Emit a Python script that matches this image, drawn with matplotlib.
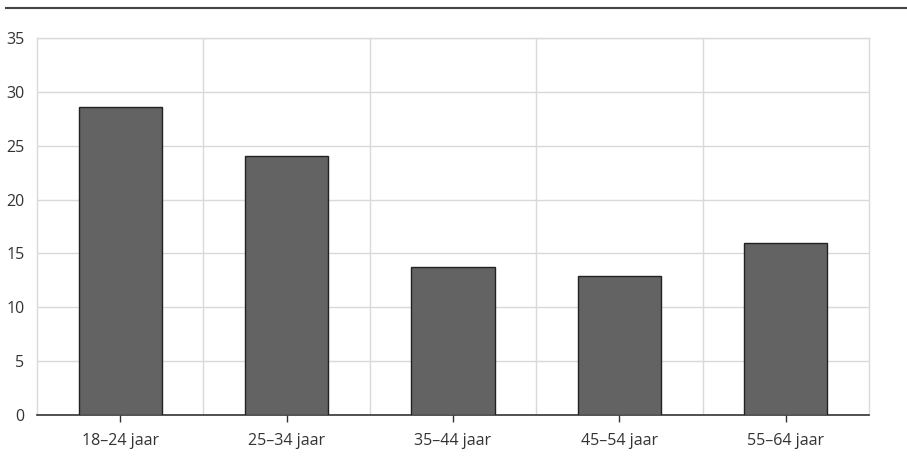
import matplotlib
matplotlib.use("Agg")
import matplotlib.pyplot as plt
from matplotlib.lines import Line2D

categories = ["18–24 jaar", "25–34 jaar", "35–44 jaar", "45–54 jaar", "55–64 jaar"]
values = [28.6, 24.0, 13.7, 12.9, 16.0]
yticks = [0, 5, 10, 15, 20, 25, 30, 35]

plt.rcParams["font.family"] = ["Open Sans", "DejaVu Sans"]

fig = plt.figure(figsize=(9.07, 4.71), dpi=100)
ax = fig.add_axes([37 / 907, 56 / 471, 832 / 907, 377 / 471])

x = list(range(len(categories)))
ax.bar(x, values, width=0.5, color="#636363", edgecolor="#222222", linewidth=1, zorder=3)

ax.set_xlim(-0.5, len(categories) - 0.5)
ax.set_ylim(0, 35)
ax.set_yticks(yticks)
ax.set_xticks(x)
ax.set_xticklabels(categories)

# verticale lijnen tussen de categorieën
for b in [i + 0.5 for i in range(len(categories) - 1)]:
    ax.axvline(b, color="#d9d9d9", linewidth=1, zorder=1)
ax.yaxis.grid(True, color="#d9d9d9", linewidth=1, zorder=1)
ax.set_axisbelow(True)

for s in ["top", "left", "right"]:
    ax.spines[s].set_color("#d9d9d9")
    ax.spines[s].set_linewidth(1)
ax.spines["bottom"].set_color("#333333")
ax.spines["bottom"].set_linewidth(1.2)

ax.tick_params(axis="y", length=0, pad=9, labelsize=11.5, labelcolor="#333333")
ax.tick_params(axis="x", length=5, width=1, color="#333333", pad=8, labelsize=11.5, labelcolor="#333333")

fig.add_artist(Line2D([6 / 907, 1.0], [1 - 8 / 471, 1 - 8 / 471], color="#444444", linewidth=1.5))

fig.savefig("out.png", dpi=100)
